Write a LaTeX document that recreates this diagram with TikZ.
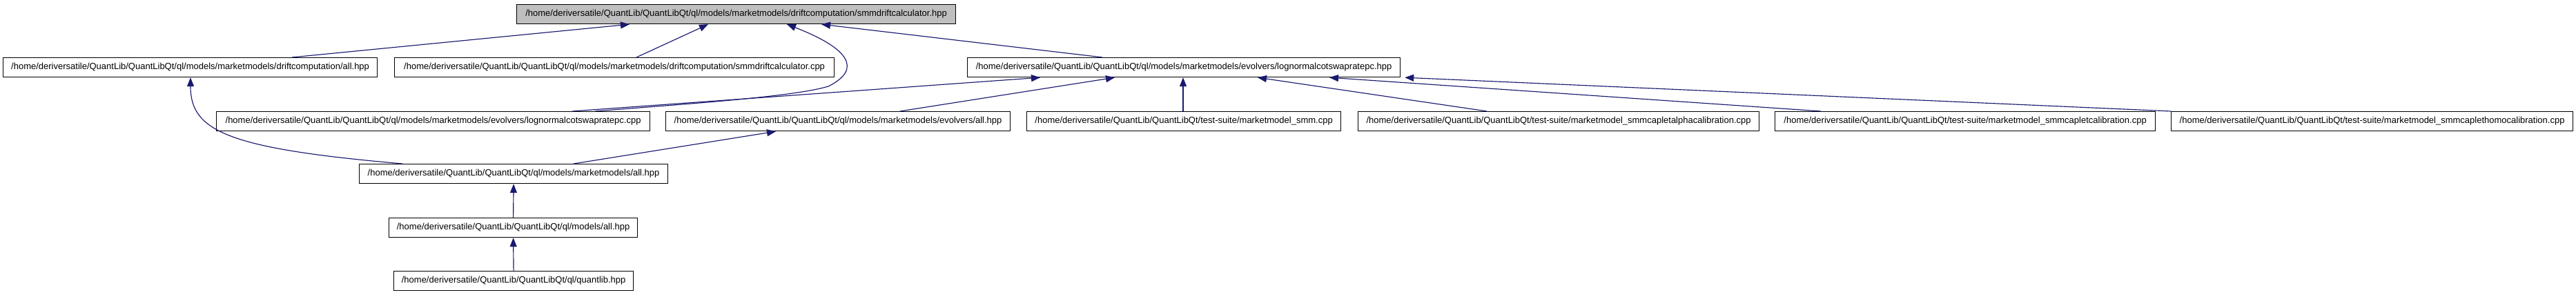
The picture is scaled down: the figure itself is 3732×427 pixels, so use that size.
\documentclass[tikz,border=0pt]{standalone}
\usepackage{fontspec}
\setmainfont{Liberation Sans}
\usetikzlibrary{arrows.meta}
\definecolor{edgeblue}{HTML}{191970}
\begin{document}
\begin{tikzpicture}[x=1pt,y=-1pt,
  filebox/.style={draw=black, line width=1.2pt, fill=white, inner sep=0pt, minimum height=28pt,
    font=\fontsize{13}{15}\selectfont, anchor=north west},
  rootbox/.style={filebox, fill=gray!50},
  edge/.style={draw=edgeblue, line width=1.15pt, -{Triangle[length=13pt,width=10pt]}}]
\useasboundingbox (0,0) rectangle (3732,427);
\fill[white] (0,0) rectangle (3732,427);
% row 1
\node[rootbox, minimum width=636pt] (root) at (748,6) {/home/deriversatile/QuantLib/QuantLibQt/ql/models/marketmodels/driftcomputation/smmdriftcalculator.hpp};
% row 2
\node[filebox, minimum width=542pt] (A) at (4,83) {/home/deriversatile/QuantLib/QuantLibQt/ql/models/marketmodels/driftcomputation/all.hpp};
\node[filebox, minimum width=637pt] (B) at (571,83) {/home/deriversatile/QuantLib/QuantLibQt/ql/models/marketmodels/driftcomputation/smmdriftcalculator.cpp};
\node[filebox, minimum width=627pt] (C) at (1401,83) {/home/deriversatile/QuantLib/QuantLibQt/ql/models/marketmodels/evolvers/lognormalcotswapratepc.hpp};
% row 3
\node[filebox, minimum width=628pt] (D) at (313,161) {/home/deriversatile/QuantLib/QuantLibQt/ql/models/marketmodels/evolvers/lognormalcotswapratepc.cpp};
\node[filebox, minimum width=499pt] (E) at (964,161) {/home/deriversatile/QuantLib/QuantLibQt/ql/models/marketmodels/evolvers/all.hpp};
\node[filebox, minimum width=455pt] (F) at (1487,161) {/home/deriversatile/QuantLib/QuantLibQt/test-suite/marketmodel\_smm.cpp};
\node[filebox, minimum width=581pt] (G) at (1967,161) {/home/deriversatile/QuantLib/QuantLibQt/test-suite/marketmodel\_smmcapletalphacalibration.cpp};
\node[filebox, minimum width=551pt] (H) at (2571,161) {/home/deriversatile/QuantLib/QuantLibQt/test-suite/marketmodel\_smmcapletcalibration.cpp};
\node[filebox, minimum width=582pt] (I) at (3145,161) {/home/deriversatile/QuantLib/QuantLibQt/test-suite/marketmodel\_smmcaplethomocalibration.cpp};
% rows 4-6
\node[filebox, minimum width=447pt] (M) at (520,237) {/home/deriversatile/QuantLib/QuantLibQt/ql/models/marketmodels/all.hpp};
\node[filebox, minimum width=360pt] (N) at (563,315) {/home/deriversatile/QuantLib/QuantLibQt/ql/models/all.hpp};
\node[filebox, minimum width=347pt] (Q) at (570,392) {/home/deriversatile/QuantLib/QuantLibQt/ql/quantlib.hpp};
% edges to root
\draw[edge] ([xshift=419pt]A.north west) -- ([xshift=164pt]root.south west);
\draw[edge] ([xshift=351pt]B.north west) -- ([xshift=278pt]root.south west);
\draw[edge] ([xshift=549pt]D.north west) .. controls (1000,150) and (1150,140) .. (1200,125)
  .. controls (1250,100) and (1230,70) .. ([xshift=392pt]root.south west);
\draw[edge] ([xshift=196pt]C.north west) -- ([xshift=442pt]root.south west);
% edges to C
\draw[edge] ([xshift=516pt]D.north west) -- ([xshift=106pt]C.south west);
\draw[edge] ([xshift=340pt]E.north west) -- ([xshift=214pt]C.south west);
\draw[edge] ([xshift=227pt]F.north west) -- ([xshift=313pt]C.south west);
\draw[edge] ([xshift=187pt]G.north west) -- ([xshift=421pt]C.south west);
\draw[edge] ([xshift=67pt]H.north west) -- ([xshift=525pt]C.south west);
\draw[edge] (I.north west) -- ([xshift=6pt]C.south east);
% edges to A and E
\draw[edge] ([xshift=63pt]M.north west) .. controls (330,215) and (276,190) .. ([xshift=272pt]A.south west);
\draw[edge] ([xshift=311pt]M.north west) -- ([xshift=160pt]E.south west);
% vertical chain
\draw[edge] (N.north) -- (M.south);
\draw[edge] (Q.north) -- (N.south);
\end{tikzpicture}
\end{document}
